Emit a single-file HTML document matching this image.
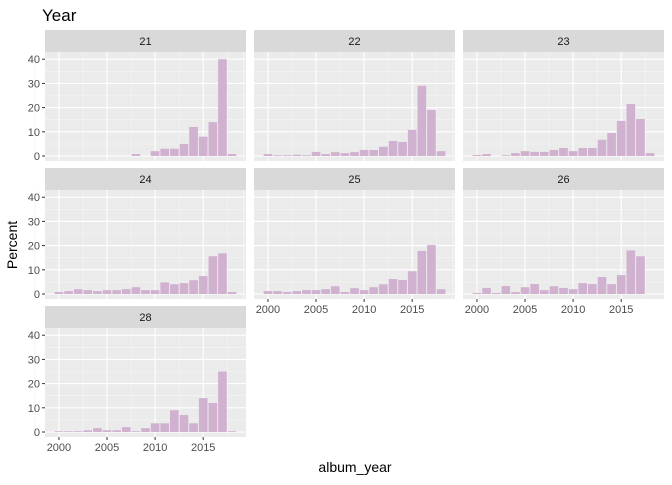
<!DOCTYPE html>
<html><head><meta charset="utf-8"><style>
body{margin:0;background:#fff;font-family:"Liberation Sans",sans-serif}
</style></head><body>
<svg id="c" width="672" height="480" xmlns="http://www.w3.org/2000/svg" font-family="Liberation Sans, sans-serif">
<text x="42" y="21" font-size="17" fill="#000">Year</text>
<text transform="translate(17,245) rotate(-90)" text-anchor="middle" font-size="14" fill="#000">Percent</text>
<text x="355" y="472" text-anchor="middle" font-size="14" fill="#000">album_year</text>
</svg>
<script>
const years=[2000,2001,2002,2003,2004,2005,2006,2007,2008,2009,2010,2011,2012,2013,2014,2015,2016,2017,2018];
const panelLabels=["21","22","23","24","25","26","28"];
const v21=[0,0,0,0,0,0,0,0,0.8,0,2,3,3,5,12,8,14,40,0.8];
const v22=[0.8,0.3,0.3,0.5,0.3,1.7,0.8,1.6,1.2,1.6,2.5,2.5,3.8,6.2,5.8,10.8,29,19,2];
const v23=[0.4,0.8,0,0.3,1.2,2,1.7,1.7,2.5,3.3,2,3.3,3.3,6.7,9.5,14.5,21.5,15.3,1.2];
const v24=[0.8,1.2,2,1.6,1.2,1.6,1.6,2,2.8,1.6,1.6,4.8,4,4.5,5.7,7.4,15.6,16.8,0.8];
const v25=[1.2,1.2,0.8,1.2,1.6,1.6,2,3.2,0.8,2.4,1.6,2.8,4,6.2,5.8,9.4,17.8,20.2,2];
const v26=[0.4,2.5,0.4,3.3,0.8,2.8,4.1,1.6,3.2,2.5,2,4.5,4.1,7,4.1,7.8,18,15.6,0];
const v28=[0.3,0.3,0.3,0.7,1.6,0.7,0.7,2,0.3,1.6,3.6,3.6,9,7,3.6,14,12,25,0.3];
const seriesValues=[v21,v22,v23,v24,v25,v26,v28];
const yTicks=[0,10,20,30,40];
const xTicks=[2000,2005,2010,2015];
const svg=document.getElementById('c');
const NS='http://www.w3.org/2000/svg';
function mk(t,a,p){const e=document.createElementNS(NS,t);for(const k in a)e.setAttribute(k,a[k]);(p||svg).appendChild(e);return e;}
const colX=[45,254,463],PW=201,rowY=[30,168,306],SH=22,PH=109;
const xmin=1998.55,xmax=2019.45;
panelLabels.forEach((lab,i)=>{
  const c=i%3,r=Math.floor(i/3);
  const px=colX[c],sy=rowY[r],py=sy+SH;
  const X=yr=>px+(yr-xmin)/(xmax-xmin)*PW;
  const Y=v=>py+104-v*2.42;
  const g=mk('g',{});
  
  
  const st=mk('rect',{x:px,y:sy,width:PW,height:SH,fill:'#d9d9d9'},g);
  
  
  const stt=mk('text',{x:px+PW/2,y:sy+15,'text-anchor':'middle','font-size':11,fill:'#1a1a1a'},g);stt.textContent=lab;
  
  
  mk('rect',{x:px,y:py,width:PW,height:PH,fill:'#ebebeb'},g);
  for(let k=0;k<4;k++){const v=5+10*k;mk('line',{x1:px,x2:px+PW,y1:Y(v),y2:Y(v),stroke:'#f5f5f5','stroke-width':0.6},g);}
  xTicks.forEach(t=>{const m=t+2.5;if(m<xmax)mk('line',{x1:X(m),x2:X(m),y1:py,y2:py+PH,stroke:'#f5f5f5','stroke-width':0.6},g);});
  mk('line',{x1:X(1997.5),x2:X(1997.5),y1:py,y2:py+PH,stroke:'#f5f5f5'},g);
  yTicks.forEach(t=>mk('line',{x1:px,x2:px+PW,y1:Y(t),y2:Y(t),stroke:'#fff','stroke-width':1.1},g));
  xTicks.forEach(t=>mk('line',{x1:X(t),x2:X(t),y1:py,y2:py+PH,stroke:'#fff','stroke-width':1.1},g));
  seriesValues[i].forEach((v,j)=>{
    if(v<=0)return;
    const b=mk('rect',{x:X(years[j]-0.45),y:Y(v),width:X(years[j]+0.45)-X(years[j]-0.45),height:Y(0)-Y(v),fill:'#d0b1d0'},g);
    
    
  });
  if(c===0){yTicks.forEach(t=>{mk('line',{x1:px-3,x2:px,y1:Y(t),y2:Y(t),stroke:'#333'},g);
    const tx=mk('text',{x:px-5,y:Y(t)+4,'text-anchor':'end','font-size':11,fill:'#4d4d4d'},g);tx.textContent=t;
    
    });}
  const bottom=(r===2)||(r===1&&c>0);
  if(bottom){xTicks.forEach(t=>{mk('line',{x1:X(t),x2:X(t),y1:py+PH,y2:py+PH+3,stroke:'#333'},g);
    const tx=mk('text',{x:X(t),y:py+PH+14,'text-anchor':'middle','font-size':11,fill:'#4d4d4d'},g);tx.textContent=t;
    
    });}
});
</script>
</body></html>
